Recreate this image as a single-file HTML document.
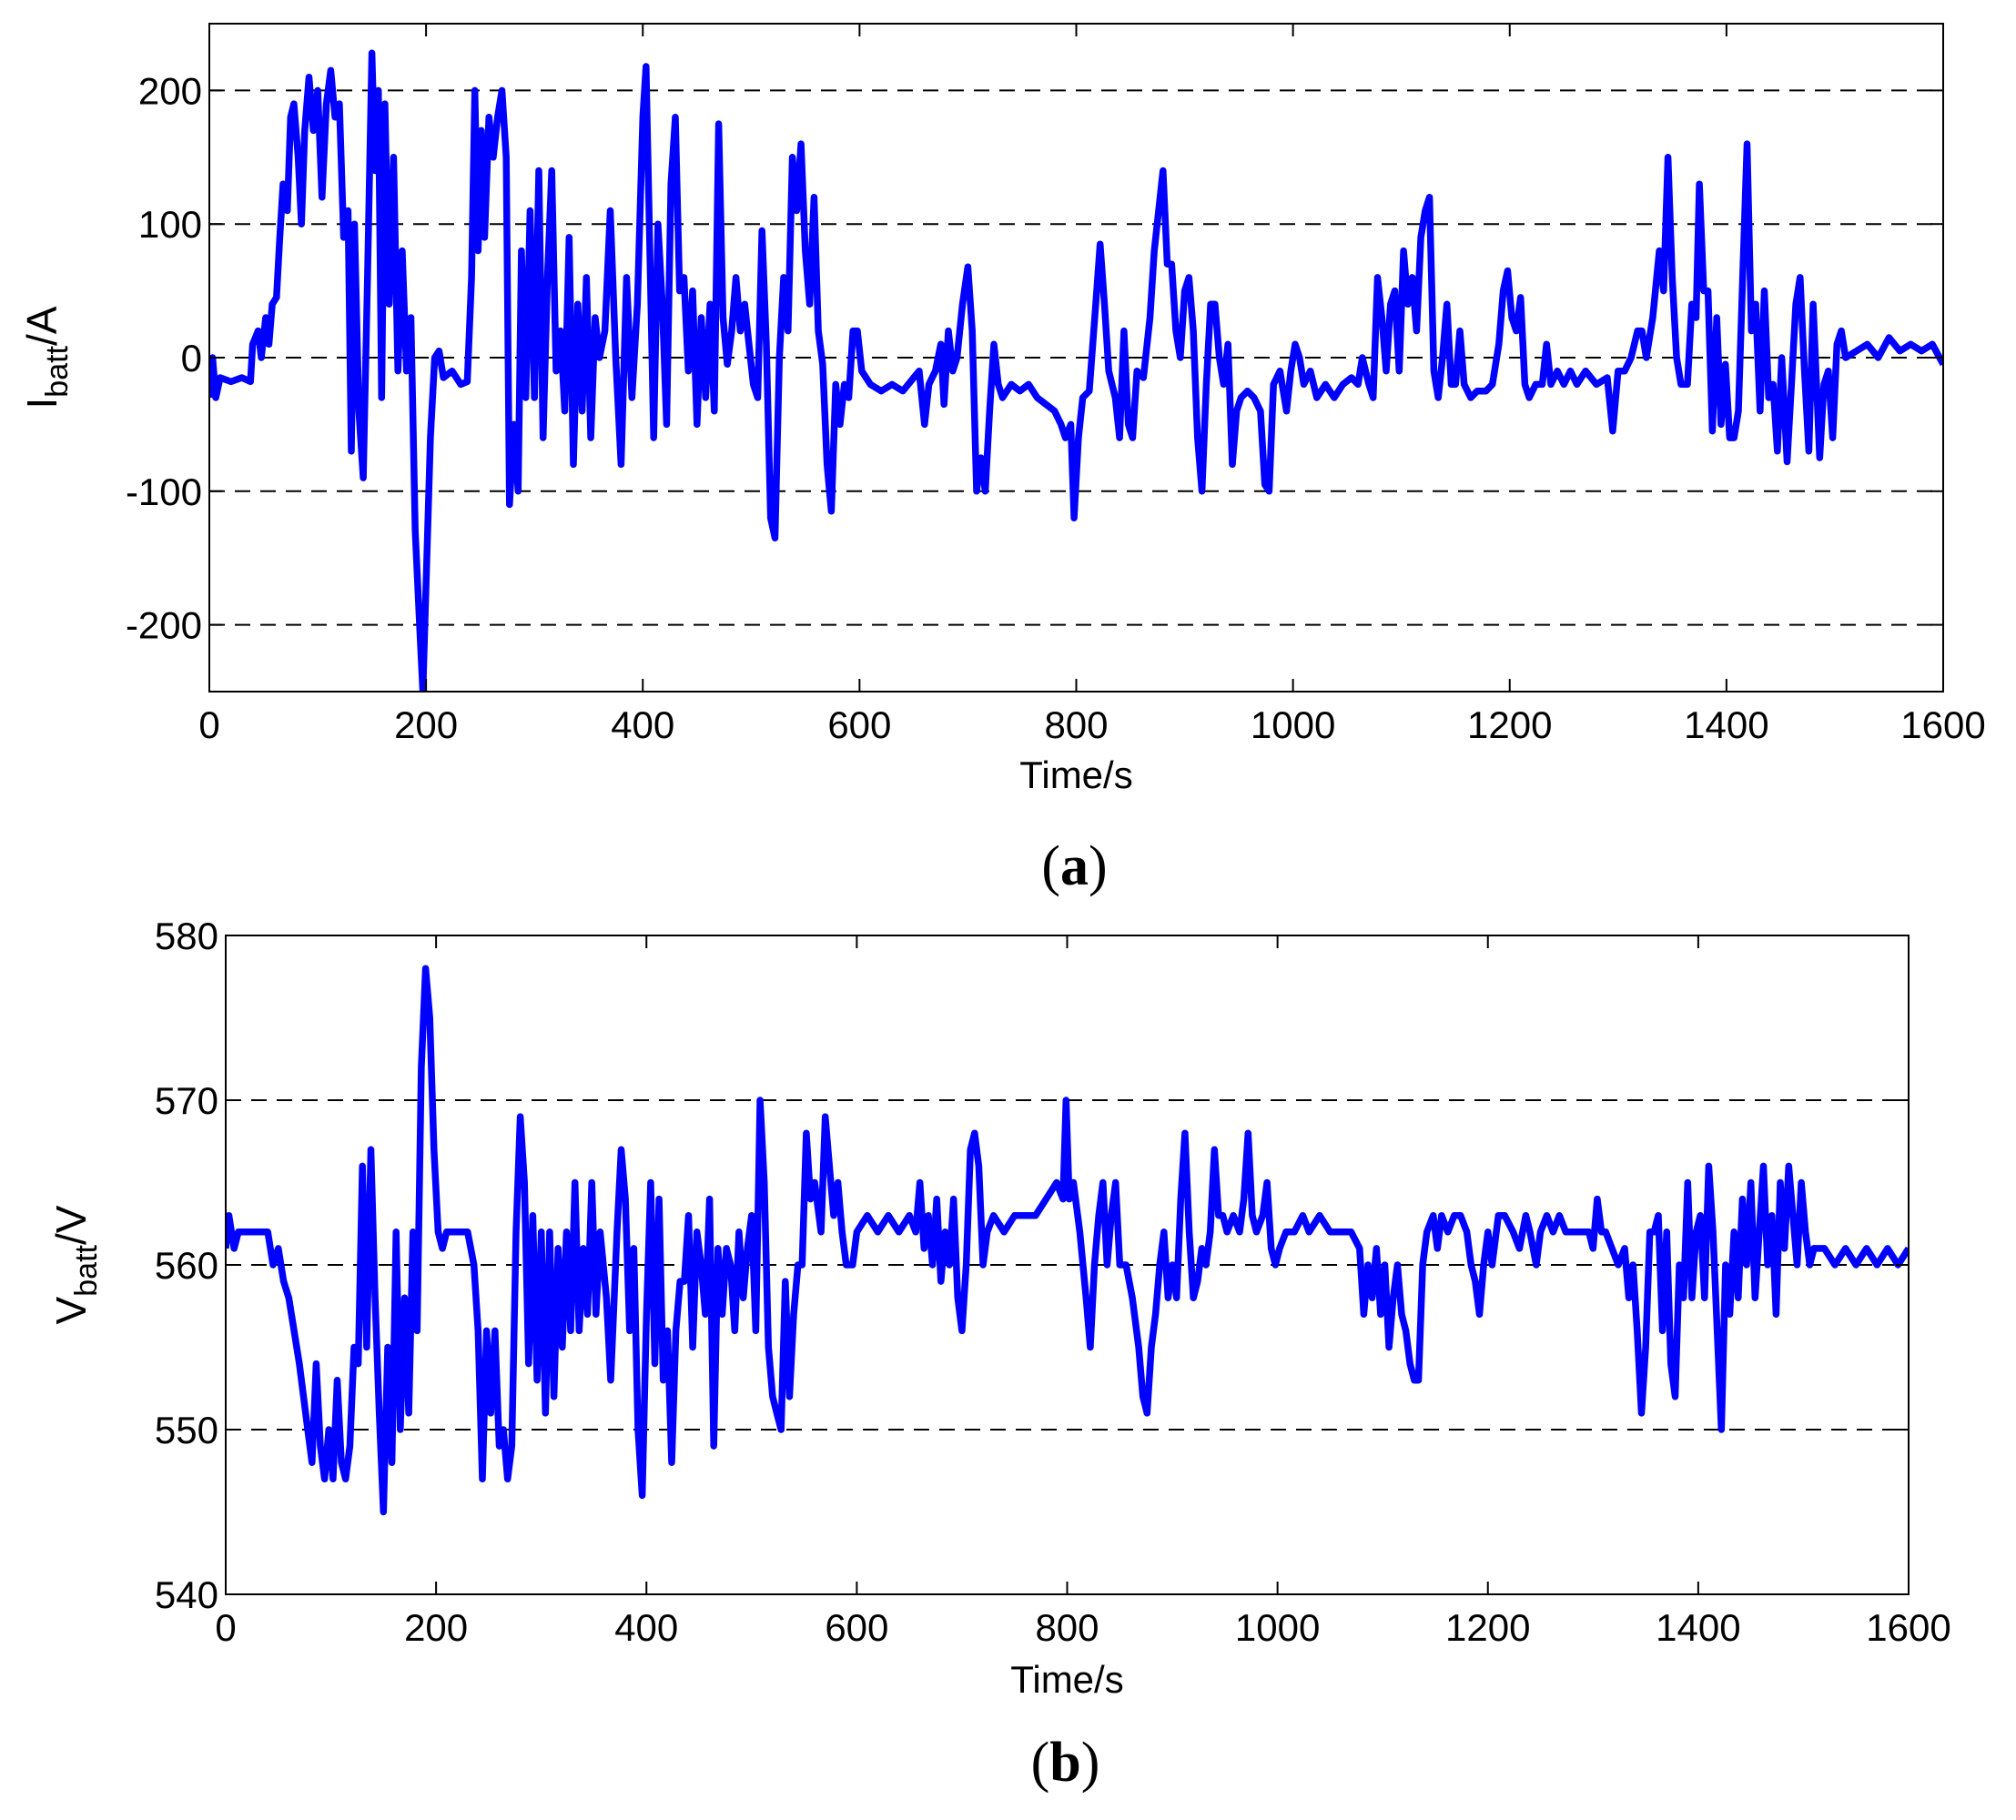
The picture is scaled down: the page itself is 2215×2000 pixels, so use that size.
<!DOCTYPE html>
<html><head><meta charset="utf-8">
<style>
html,body{margin:0;padding:0;background:#fff;}
svg{display:block;}
text{font-family:"Liberation Sans",sans-serif;fill:#000;}
text.cap{font-family:"Liberation Serif",serif;}
</style></head>
<body>
<svg id="fig" width="2215" height="2000" viewBox="0 0 2215 2000" xmlns="http://www.w3.org/2000/svg">
<g id="pa"></g>
<g id="pb"></g>
</svg>
<script>
// ---- data: battery current (A) ----
const curT = [0,3,6,10,20,30,38,40,45,48,52,55,58,62,65,68,72,75,78,82,85,88,92,96,100,104,108,112,116,120,124,128,131,134,138,142,146,150,153,156,159,162,166,170,174,178,182,186,190,194,197,200,204,208,212,216,224,232,238,242,245,248,251,254,258,262,266,270,274,277,281,285,288,292,296,300,304,308,312,316,320,324,328,332,336,340,344,348,352,356,360,365,370,375,380,385,390,395,400,403,406,410,414,418,422,426,430,434,438,442,446,450,454,458,462,466,470,474,478,482,486,490,494,498,502,506,510,514,518,522,526,530,534,538,542,546,550,554,558,562,566,570,574,578,582,586,590,594,598,602,610,620,630,640,650,655,660,664,670,675,678,682,686,690,695,700,704,708,712,716,720,724,728,732,740,748,756,764,772,780,786,790,795,798,802,806,812,818,822,826,830,836,840,844,848,852,856,862,868,872,876,880,884,888,892,896,900,904,908,912,916,920,924,928,932,936,940,944,948,952,958,964,970,974,978,982,988,994,998,1002,1006,1010,1016,1022,1030,1038,1046,1054,1060,1064,1070,1074,1078,1082,1086,1090,1094,1098,1102,1106,1110,1114,1118,1122,1126,1130,1134,1138,1142,1146,1150,1154,1158,1164,1170,1178,1184,1190,1194,1198,1202,1206,1210,1214,1218,1224,1230,1234,1238,1244,1250,1256,1262,1270,1280,1290,1295,1300,1306,1312,1318,1322,1326,1332,1338,1342,1346,1350,1354,1358,1364,1368,1372,1375,1379,1383,1387,1391,1395,1399,1403,1407,1411,1415,1419,1423,1427,1431,1435,1439,1443,1447,1451,1456,1460,1464,1468,1472,1476,1480,1486,1490,1494,1498,1502,1506,1510,1520,1530,1540,1550,1560,1570,1580,1590,1600];
const curV = [-30,0,-30,-15,-18,-15,-18,10,20,0,30,10,40,45,90,130,110,180,190,150,100,170,210,170,200,120,190,215,180,190,90,110,-70,100,-40,-90,60,228,140,200,-30,190,40,150,-10,80,-10,30,-130,-200,-250,-170,-60,0,5,-15,-10,-20,-18,60,200,80,170,90,180,150,180,200,150,-110,-50,-100,80,-30,110,-30,140,-60,60,140,-10,20,-40,90,-80,40,-40,60,-60,30,0,20,110,0,-80,60,-30,40,180,218,100,-60,100,40,-50,130,180,50,60,-10,50,-50,30,-30,40,-40,175,30,-5,20,60,20,40,10,-20,-30,95,10,-120,-135,0,60,20,150,110,160,80,40,120,20,-5,-80,-115,-20,-50,-20,-30,20,20,-10,-20,-25,-20,-25,-15,-10,-50,-20,-10,10,-35,20,-10,0,40,68,20,-100,-75,-100,-40,10,-20,-30,-20,-25,-20,-30,-35,-40,-50,-60,-50,-120,-60,-30,-25,40,85,40,-10,-30,-60,20,-50,-60,-10,-15,30,80,110,140,70,70,20,0,50,60,20,-60,-100,-20,40,40,0,-20,10,-80,-40,-30,-25,-30,-40,-95,-100,-20,-10,-40,-10,10,0,-20,-10,-30,-20,-30,-20,-15,-20,0,-20,-30,60,30,-10,40,50,-10,80,40,60,20,90,110,120,-10,-30,0,40,-20,-20,20,-20,-30,-25,-25,-20,10,50,65,30,20,45,-20,-30,-20,-20,10,-20,-10,-20,-10,-20,-10,-20,-15,-55,-10,-10,0,20,20,0,30,80,50,150,60,0,-20,-20,40,30,130,50,50,-55,30,-50,-5,-60,-60,-40,60,160,20,40,-40,50,-30,-20,-70,0,-78,-20,40,60,-10,-70,40,-75,-20,-10,-60,10,20,0,5,10,0,15,5,10,5,10,-5];
const curTicksY = [-200,-100,0,100,200];
// ---- data: battery voltage (V) ----
const volT = [0,3,8,12,20,30,40,45,50,55,60,65,70,74,78,82,86,90,94,98,102,106,110,114,118,122,126,130,134,138,142,146,150,154,158,162,166,170,174,178,182,186,190,194,198,202,206,210,220,230,236,240,244,248,252,256,260,264,268,272,276,280,284,288,292,296,300,304,308,312,316,320,324,328,332,336,340,344,348,352,356,362,366,372,376,380,384,388,392,396,400,404,408,412,416,420,424,428,432,436,440,444,448,452,456,460,464,468,472,476,480,484,488,492,496,500,504,508,512,516,520,524,528,532,536,540,544,548,552,556,560,566,570,574,578,582,586,590,596,600,610,620,630,640,650,656,660,664,668,672,676,680,684,688,692,696,700,704,708,712,716,720,724,730,740,750,760,770,780,790,796,799,802,806,812,818,822,826,830,834,838,842,846,850,856,862,868,872,876,880,884,888,892,896,900,904,908,912,916,920,924,928,932,936,940,944,948,952,958,964,968,972,976,980,986,990,994,998,1002,1008,1016,1024,1030,1040,1050,1060,1070,1078,1082,1086,1090,1094,1098,1102,1106,1110,1114,1118,1122,1126,1130,1134,1138,1142,1148,1152,1156,1162,1168,1174,1180,1184,1188,1192,1196,1200,1204,1210,1216,1224,1230,1236,1240,1246,1250,1256,1262,1268,1274,1280,1290,1296,1300,1304,1308,1312,1318,1324,1330,1334,1338,1342,1346,1350,1354,1358,1362,1366,1370,1374,1378,1382,1386,1390,1394,1398,1402,1406,1410,1414,1418,1422,1426,1430,1434,1438,1442,1446,1450,1454,1458,1462,1466,1470,1474,1478,1482,1486,1490,1494,1498,1502,1506,1510,1520,1530,1540,1550,1560,1570,1580,1590,1600];
const volV = [561,563,561,562,562,562,562,560,561,559,558,556,554,552,550,548,554,549,547,550,547,553,548,547,549,555,554,566,555,567,558,551,545,555,548,562,550,558,551,562,556,572,578,575,567,562,561,562,562,562,560,556,547,556,551,556,549,550,547,549,562,569,565,554,563,553,562,551,562,552,561,555,562,556,565,556,561,557,565,557,562,558,553,562,567,564,556,561,550,546,557,565,554,564,553,556,548,556,559,559,563,555,562,560,557,564,549,561,557,561,560,556,562,558,561,563,556,570,565,555,552,551,550,559,552,557,560,560,568,564,565,562,569,566,563,565,562,560,560,562,563,562,563,562,563,562,565,561,563,560,564,559,562,560,564,558,556,560,567,568,566,560,562,563,562,563,563,563,564,565,564,570,564,565,562,558,555,560,563,565,560,563,565,560,560,558,555,552,551,555,557,560,562,558,560,558,564,568,562,558,559,561,560,562,567,563,563,562,563,562,564,568,563,562,563,565,561,560,561,562,562,563,562,563,562,562,562,561,557,560,558,561,557,560,555,558,560,557,556,554,553,553,560,562,563,561,563,562,563,563,562,560,559,557,560,562,560,563,563,562,561,563,562,560,562,563,562,563,562,562,562,562,561,564,562,562,561,560,561,558,560,556,551,555,562,562,563,556,562,554,552,560,558,565,558,562,563,558,566,562,556,550,560,557,562,558,564,560,565,558,562,566,560,563,557,565,561,566,563,560,565,562,560,561,561,560,561,560,561,560,561,560,561];
const volTicksY = [540,550,560,570,580];
const timeTicks = [0,200,400,600,800,1000,1200,1400,1600];

const NS = "http://www.w3.org/2000/svg";
function mk(tag, attrs, parent){
  const e = document.createElementNS(NS, tag);
  for (const k in attrs) e.setAttribute(k, attrs[k]);
  parent.appendChild(e);
  return e;
}
function drawPanel(g, box, yMin, yMax, yTicks, gridVals, xs, ys, ylabMain, ylabSub, ylabTail, ylabX, xLabY, titleY, tag){
  const sx = t => box.L + (t - 0) / 1600 * (box.R - box.L);
  const sy = v => box.B - (v - yMin) / (yMax - yMin) * (box.B - box.T);
  gridVals.forEach(v => {
    const l = mk('line', {x1:box.L, x2:box.R, y1:sy(v), y2:sy(v), stroke:'#000', 'stroke-width':2, 'stroke-dasharray':'17,11'}, g);
    
    
  });
  let d = '';
  xs.forEach((t, i) => { d += (i ? 'L' : 'M') + sx(t).toFixed(1) + ',' + sy(ys[i]).toFixed(1); });
  const cp = mk('clipPath', {id:'clip-' + tag}, g);
  mk('rect', {x:box.L, y:box.T, width:box.R - box.L, height:box.B - box.T}, cp);
  const p = mk('path', {d:d, fill:'none', stroke:'#0000ff', 'stroke-width':7.5, 'stroke-linejoin':'round', 'clip-path':'url(#clip-' + tag + ')'}, g);
  
  
  const r = mk('rect', {x:box.L, y:box.T, width:box.R - box.L, height:box.B - box.T, fill:'none', stroke:'#000', 'stroke-width':2}, g);
  
  
  timeTicks.forEach(t => {
    mk('line', {x1:sx(t), x2:sx(t), y1:box.B, y2:box.B - 14, stroke:'#000', 'stroke-width':2}, g);
    mk('line', {x1:sx(t), x2:sx(t), y1:box.T, y2:box.T + 14, stroke:'#000', 'stroke-width':2}, g);
    const tx = mk('text', {x:sx(t), y:box.B + 51, 'font-size':42, 'text-anchor':'middle'}, g);
    tx.textContent = t;
    
    
  });
  yTicks.forEach(v => {
    mk('line', {x1:box.L, x2:box.L + 14, y1:sy(v), y2:sy(v), stroke:'#000', 'stroke-width':2}, g);
    mk('line', {x1:box.R, x2:box.R - 14, y1:sy(v), y2:sy(v), stroke:'#000', 'stroke-width':2}, g);
    const ty = mk('text', {x:box.L - 8, y:sy(v) + 15, 'font-size':42, 'text-anchor':'end'}, g);
    ty.textContent = v;
    
    
  });
  const xl = mk('text', {x:(box.L + box.R) / 2, y:xLabY, 'font-size':42, 'text-anchor':'middle'}, g);
  xl.textContent = 'Time/s';
  
  
  const cy = (box.T + box.B) / 2;
  const yl = mk('text', {x:0, y:0, 'font-size':46, 'text-anchor':'middle', transform:'translate(' + ylabX + ',' + cy + ') rotate(-90)'}, g);
  
  
  const s1 = mk('tspan', {}, yl); s1.textContent = ylabMain;
  const s2 = mk('tspan', {dy:12, 'font-size':34}, yl); s2.textContent = ylabSub;
  const s3 = mk('tspan', {dy:-12}, yl); s3.textContent = ylabTail;
  const cap = mk('text', {x:(box.L + box.R) / 2 - 2, y:titleY, 'font-size':62, 'text-anchor':'middle', 'class':'cap'}, g);
  
  
  const c1 = mk('tspan', {}, cap); c1.textContent = '(';
  const c2 = mk('tspan', {'font-weight':'bold'}, cap); c2.textContent = tag;
  const c3 = mk('tspan', {}, cap); c3.textContent = ')';
}
drawPanel(document.getElementById('pa'), {L:230, R:2135, T:26, B:760}, -250, 250, curTicksY, [-200,-100,0,100,200], curT, curV, 'I', 'batt', '/A', 62, 866, 972, 'a');
drawPanel(document.getElementById('pb'), {L:248, R:2097, T:1028, B:1752}, 540, 580, volTicksY, [550,560,570,580], volT, volV, 'V', 'batt', '/V', 94, 1860, 1957, 'b');
</script>
</body></html>
